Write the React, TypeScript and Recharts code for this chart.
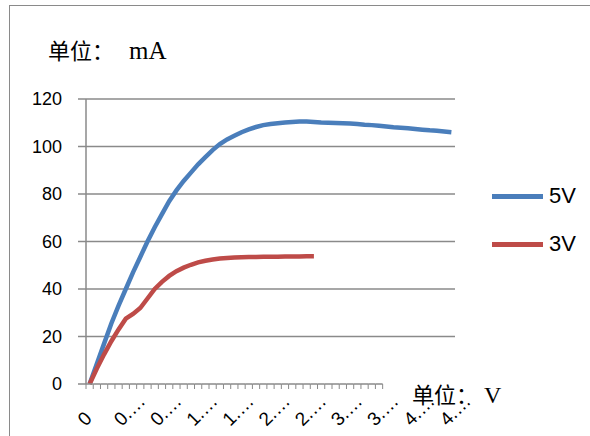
import { LineChart, Line, XAxis, YAxis, ReferenceLine, Legend } from 'recharts';

// voltage categories (x axis)
const volts = [
  '0', '0.09', '0.18', '0.27', '0.36', '0.45', '0.54', '0.63', '0.72', '0.81',
  '0.9', '0.99', '1.08', '1.17', '1.26', '1.35', '1.44', '1.53', '1.62', '1.71',
  '1.8', '1.89', '1.98', '2.07', '2.16', '2.25', '2.34', '2.43', '2.52', '2.61',
  '2.7', '2.79', '2.88', '2.97', '3.06', '3.15', '3.24', '3.33', '3.42', '3.51',
  '3.6', '3.69', '3.78', '3.87', '3.96', '4.05', '4.14', '4.23', '4.32', '4.41',
  '4.5',
];

// current in mA
const current5V = [
  0, 8.5, 17, 25.5, 33, 40, 47, 53.5, 60, 66,
  71.5, 77, 81.5, 85.5, 89, 92.5, 95.5, 98.5, 101, 103,
  104.5, 106, 107.2, 108.2, 109, 109.5, 109.8, 110.1, 110.3, 110.5,
  110.5, 110.3, 110.1, 110, 109.9, 109.8, 109.7, 109.5, 109.2, 109,
  108.7, 108.4, 108.1, 107.9, 107.7, 107.4, 107.1, 106.8, 106.6, 106.3,
  106,
];

const current3V = [
  0, 6.5, 12.5, 18, 23, 27.5, 29.5, 32, 36, 40,
  43, 45.5, 47.5, 49, 50.2, 51.2, 51.9, 52.4, 52.8, 53.1,
  53.3, 53.4, 53.5, 53.5, 53.6, 53.6, 53.6, 53.7, 53.7, 53.7,
  53.8, 53.8,
];

const seriesNames = ['5V', '3V'];
const yTicks = [0, 20, 40, 60, 80, 100, 120];

const data = volts.map((v, i) => ({ v, a5: current5V[i], a3: current3V[i] }));

const W = 590;
const H = 436;
const PLOT_LEFT = 86;
const PLOT_RIGHT = 455;
const PLOT_TOP = 99;
const PLOT_BOTTOM = 384;
const STEP = (PLOT_RIGHT - PLOT_LEFT) / volts.length;
const AXIS_CATS = 41; // the category axis line only covers the first 41 slots
const GRAY = '#8a8a8a';
const SANS = '"Liberation Sans", Arial, sans-serif';
const SERIF = '"Liberation Serif", "Noto Sans CJK SC", serif';

function shortLabel(s: string) {
  return s.includes('.') ? s.split('.')[0] + '.…' : s;
}

function XTick(props: any) {
  const { x, y, index, payload } = props;
  const left = x - STEP / 2;
  const tx = x - 4;
  const ty = y + 43;
  return (
    <g>
      {index < AXIS_CATS && (
        <>
          <line x1={left} x2={left + STEP} y1={y} y2={y} stroke={GRAY} strokeWidth={1.5} />
          <line x1={left} x2={left} y1={y} y2={y + 5} stroke={GRAY} strokeWidth={1} />
          {index === AXIS_CATS - 1 && (
            <line x1={left + STEP} x2={left + STEP} y1={y} y2={y + 5} stroke={GRAY} strokeWidth={1} />
          )}
        </>
      )}
      {index % 5 === 0 && (
        <text
          x={tx}
          y={ty}
          transform={`rotate(-45 ${tx} ${ty})`}
          textAnchor="start"
          fontSize={19}
          fontFamily={SANS}
          fill="#000"
        >
          {shortLabel(payload.value)}
        </text>
      )}
    </g>
  );
}

function LegendBox({ payload }: any) {
  const items = [...(payload || [])].sort(
    (a: any, b: any) => seriesNames.indexOf(a.value) - seriesNames.indexOf(b.value)
  );
  return (
    <div>
      {items.map((p: any) => (
        <div key={p.value} style={{ display: 'flex', alignItems: 'center', height: 48 }}>
          <div style={{ width: 51, height: 5, background: p.color }} />
          <span style={{ marginLeft: 6, fontSize: 22, fontFamily: SANS, color: '#000' }}>{p.value}</span>
        </div>
      ))}
    </div>
  );
}

export default function App() {
  return (
    <div style={{ position: 'absolute', left: 0, top: 0, width: W, height: H, overflow: 'hidden', background: '#fff' }}>
      <div
        style={{
          position: 'absolute',
          left: 9,
          top: 5,
          width: 620,
          height: 460,
          border: `1.5px solid ${GRAY}`,
        }}
      />
      <div style={{ position: 'absolute', left: 48, top: 36, fontSize: 22, fontFamily: SERIF, whiteSpace: 'pre', lineHeight: '30px' }}>
        单位：<span style={{ marginLeft: 15, fontSize: 25 }}>mA</span>
      </div>
      <div style={{ position: 'absolute', left: 412, top: 380, fontSize: 22, fontFamily: SERIF, whiteSpace: 'pre', lineHeight: '30px' }}>
        单位：<span style={{ marginLeft: 6, fontSize: 24 }}>V</span>
      </div>
      <LineChart
        width={W}
        height={H}
        data={data}
        margin={{ top: PLOT_TOP, right: W - PLOT_RIGHT, bottom: 0, left: 0 }}
        style={{ position: 'absolute', left: 0, top: 0 }}
      >
        {yTicks
          .filter((t) => t > 0)
          .map((t) => (
            <ReferenceLine key={t} y={t} stroke={GRAY} strokeWidth={1.5} />
          ))}
        <XAxis
          dataKey="v"
          interval={0}
          tick={<XTick />}
          tickLine={false}
          axisLine={false}
          tickSize={0}
          tickMargin={0}
          height={H - PLOT_BOTTOM}
          padding={{ left: STEP / 2, right: STEP / 2 }}
        />
        <YAxis
          width={PLOT_LEFT}
          domain={[0, 120]}
          ticks={yTicks}
          interval={0}
          axisLine={{ stroke: GRAY, strokeWidth: 1.5 }}
          tickLine={{ stroke: GRAY, strokeWidth: 1.5 }}
          tickSize={8}
          tickMargin={16}
          tick={{ fill: '#000', fontSize: 18, fontFamily: SANS }}
        />
        <Legend
          layout="vertical"
          align="center"
          verticalAlign="middle"
          content={<LegendBox />}
          wrapperStyle={{ left: 492, top: 172, width: 100 }}
        />
        <Line
          name={seriesNames[0]}
          dataKey="a5"
          stroke="#4a7ebb"
          strokeWidth={4.5}
          dot={false}
          activeDot={false}
          isAnimationActive={false}
        />
        <Line
          name={seriesNames[1]}
          dataKey="a3"
          stroke="#be4b48"
          strokeWidth={4.5}
          dot={false}
          activeDot={false}
          isAnimationActive={false}
        />
      </LineChart>
    </div>
  );
}
